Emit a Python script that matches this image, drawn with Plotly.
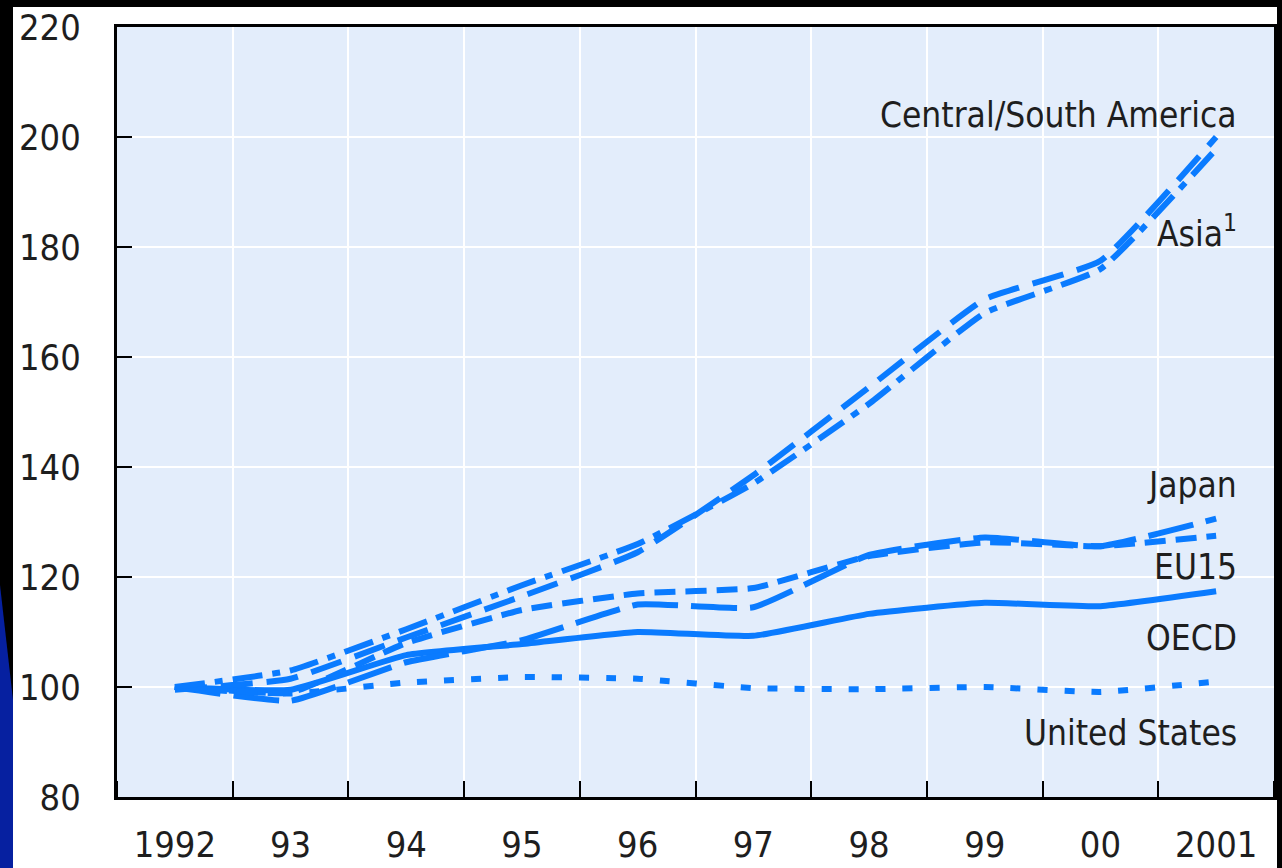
import plotly.graph_objects as go

years = [1992, 1993, 1994, 1995, 1996, 1997, 1998, 1999, 2000, 2001]
year_labels = ["1992", "93", "94", "95", "96", "97", "98", "99", "00", "2001"]

central_south_america = [99.5, 101.5, 109.0, 116.5, 124.5, 138.5, 154.5, 170.5, 177.5, 200.0]
asia = [100.0, 103.0, 110.5, 118.5, 126.0, 137.0, 151.5, 168.0, 176.0, 197.8]
japan = [100.0, 97.5, 104.5, 108.5, 115.0, 114.5, 124.0, 127.2, 125.6, 130.6]
eu15 = [100.0, 99.0, 108.0, 114.0, 117.0, 118.0, 123.8, 126.3, 125.6, 127.5]
oecd = [100.0, 99.5, 105.8, 107.8, 110.0, 109.3, 113.3, 115.3, 114.7, 117.4]
united_states = [100.0, 98.8, 100.8, 101.8, 101.5, 99.8, 99.6, 100.0, 99.1, 101.0]

y_ticks = [80, 100, 120, 140, 160, 180, 200, 220]

labels = [
    ("Central/South America", 204.0),
    ("Asia<sup>1</sup>", 183.0),
    ("Japan", 136.7),
    ("EU15", 121.8),
    ("OECD", 109.0),
    ("United States", 91.6),
]

LINE = "#0a7bff"
TEXT = "#1e1e1e"
FONT = "Liberation Sans Narrow, DejaVu Sans Condensed, Liberation Sans, Arial, sans-serif"

series = [
    ("OECD", oecd, "solid"),
    ("United States", united_states, "10px,17px"),
    ("Japan", japan, "46px,13px"),
    ("EU15", eu15, "21px,10px"),
    ("Central/South America", central_south_america, "32px,14px"),
    ("Asia", asia, "30px,10px,8px,10px"),
]

fig = go.Figure()
for name, vals, dash in series:
    fig.add_trace(go.Scatter(
        x=years, y=vals, mode="lines", name=name,
        line=dict(color=LINE, width=6, dash=dash, shape="spline", smoothing=0.4),
        hoverinfo="x+y+name",
    ))

W, H = 1282, 868
L, R, T, B = 117, 8, 27, 71
pw, ph = W - L - R, H - T - B

def px_x(p):
    return (p - L) / pw

def px_y(p):
    return (H - B - p) / ph

shapes = [
    dict(type="rect", xref="paper", yref="paper", x0=px_x(0), x1=px_x(W), y0=px_y(7), y1=px_y(0),
         fillcolor="black", line=dict(width=0), layer="above"),
    dict(type="rect", xref="paper", yref="paper", x0=px_x(0), x1=px_x(13), y0=px_y(H), y1=px_y(0),
         fillcolor="black", line=dict(width=0), layer="above"),
    dict(type="rect", xref="paper", yref="paper", x0=px_x(1277), x1=px_x(W), y0=px_y(H), y1=px_y(0),
         fillcolor="black", line=dict(width=0), layer="above"),
    dict(type="path", xref="paper", yref="paper",
         path=f"M {px_x(0)},{px_y(585)} L {px_x(13)},{px_y(700)} L {px_x(13)},{px_y(H)} L {px_x(0)},{px_y(H)} Z",
         fillcolor="#0620a0", line=dict(width=0), layer="above"),
]

annotations = []
for text, yv in labels:
    annotations.append(dict(
        text=text, x=px_x(1239), xref="paper", y=yv, yref="y",
        xanchor="right", yanchor="middle", showarrow=False,
        font=dict(family=FONT, size=35, color=TEXT),
    ))

fig.update_layout(
    width=W, height=H,
    margin=dict(l=L, r=R, t=T, b=B, pad=0, autoexpand=False),
    paper_bgcolor="white",
    plot_bgcolor="#e3edfb",
    showlegend=False,
    shapes=shapes,
    annotations=annotations,
    font=dict(family=FONT, size=35, color=TEXT),
    xaxis=dict(
        range=[1991.5, 2001.5],
        tickvals=years, ticktext=year_labels,
        ticks="", showgrid=False, zeroline=False, automargin=False,
        showline=True, linecolor="black", linewidth=3, mirror=True,
        ticklabelstandoff=14,
        tickfont=dict(family=FONT, size=36, color=TEXT),
        minor=dict(tick0=1991.5, dtick=1, ticks="inside", ticklen=16, tickwidth=2,
                   tickcolor="black", showgrid=True, gridcolor="white", gridwidth=2),
    ),
    yaxis=dict(
        range=[80, 220],
        tickvals=y_ticks,
        ticks="inside", ticklen=15, tickwidth=2, tickcolor="black",
        showgrid=True, gridcolor="white", gridwidth=2, zeroline=False, automargin=False,
        showline=True, linecolor="black", linewidth=3, mirror=True,
        ticklabelstandoff=26,
        tickfont=dict(family=FONT, size=36, color=TEXT),
    ),
)

fig.write_html(
    "out.html",
    config={"displayModeBar": False},
    post_script="document.body.style.margin='0px';document.body.style.overflow='hidden';",
)
